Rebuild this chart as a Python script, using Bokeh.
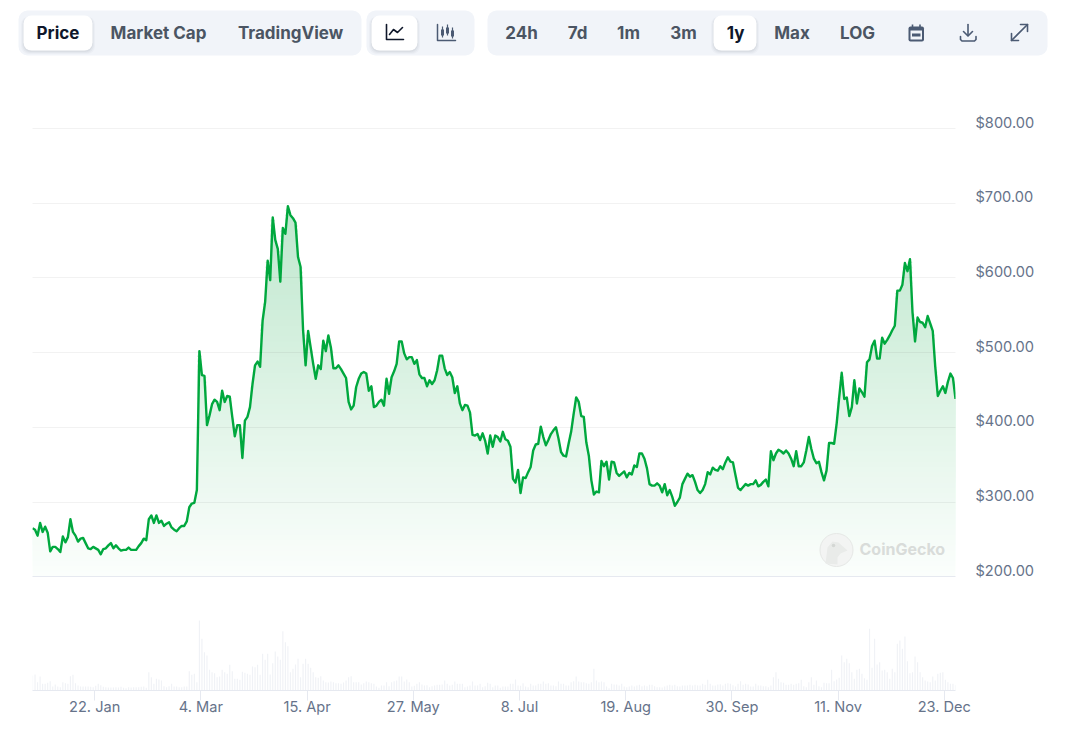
import numpy as np
import pandas as pd
from bokeh.embed import file_html
from bokeh.resources import INLINE
from bokeh.plotting import figure
from bokeh.models import Range1d, LinearAxis, FixedTicker, NumeralTickFormatter, Grid
from bokeh.core.properties import value

# ---------- data ----------
start_date = pd.Timestamp("2023-12-28 10:00")

prices = [
265,263,255,272,260,267,259,234,240,240,237,233,254,246,253,277,260,255,247,251,252,245,238,237,240,238,236,230,237,238,
242,245,238,242,238,235,236,236,239,236,236,236,241,245,251,249,277,282,272,282,272,275,268,271,273,266,263,261,265,268,
268,274,293,298,299,316,502,470,469,403,416,431,437,434,423,449,434,442,441,414,388,403,403,359,409,414,427,458,483,488,
481,543,568,623,597,681,651,639,595,667,659,696,684,680,674,628,615,530,483,529,507,485,465,483,478,516,502,523,507,479,
479,483,478,472,466,434,424,429,454,465,472,474,472,449,455,427,429,434,437,429,465,445,467,475,485,515,515,499,491,494,
494,485,490,471,466,466,455,463,458,463,476,496,496,479,470,474,467,446,455,432,423,430,429,420,390,389,391,383,392,382,
365,389,374,389,387,381,394,384,382,374,331,326,343,312,333,332,340,347,369,377,378,401,387,376,383,391,396,400,385,367,
362,361,378,394,418,440,434,415,414,380,362,329,310,314,313,355,348,354,330,354,353,339,335,338,341,333,339,337,349,347,
365,365,358,345,324,322,322,325,322,313,324,309,316,307,295,300,306,324,331,338,334,336,327,316,312,316,324,340,337,346,
343,342,348,344,353,360,354,353,336,319,316,320,324,322,324,324,329,321,323,327,330,321,368,356,365,370,368,365,369,365,
358,348,368,348,348,353,369,387,371,358,352,354,340,329,342,379,379,378,405,440,473,438,440,415,427,463,432,452,447,441,
487,491,509,516,492,492,520,512,517,523,530,536,583,583,591,620,609,625,554,515,547,541,540,534,549,539,529,481,442,449,
455,446,461,472,466,438,
]

# trading volume, in units of 20 million USD
volumes = [
45,48,25,42,20,20,23,28,12,18,12,10,25,22,20,43,47,22,15,12,12,12,12,11,10,14,20,16,11,10,
9,9,9,10,9,11,8,7,10,9,10,10,10,11,12,8,55,40,20,35,33,30,13,10,13,20,12,12,10,10,
12,12,58,47,50,25,210,155,115,105,62,55,52,40,42,62,55,50,77,58,35,35,32,56,53,50,47,72,70,77,
47,110,92,110,48,82,117,102,92,178,145,133,55,65,78,95,40,80,95,80,68,55,40,38,43,30,25,24,27,25,
22,22,20,24,30,40,43,25,25,25,18,22,27,25,22,20,12,8,15,15,25,13,25,28,30,42,42,27,33,25,
12,14,20,25,18,15,16,10,13,15,17,17,18,30,20,15,17,27,20,20,20,10,12,15,27,15,15,20,10,13,
23,20,10,15,15,8,12,12,12,20,20,33,15,
14,22,12,10,20,15,15,20,20,27,20,22,15,15,13,27,20,20,15,15,25,28,42,27,25,25,22,20,25,65,
30,25,27,25,12,7,20,18,18,15,20,12,10,12,15,12,15,17,13,15,13,17,17,13,10,10,9,12,15,17,
15,17,13,12,15,15,15,17,15,17,15,15,20,17,32,20,15,15,18,19,15,20,22,20,16,12,20,28,17,20,
18,12,12,20,15,15,13,13,10,15,40,55,35,25,23,17,17,20,17,20,22,32,13,10,25,40,17,30,13,10,
23,22,22,62,28,33,38,105,85,95,82,55,35,62,65,50,37,32,185,68,155,78,85,60,62,55,35,65,55,140,
150,125,162,88,52,55,102,85,55,40,30,27,25,42,30,50,53,55,32,25,20,20,17,15,
]

price_ticks = [200, 300, 400, 500, 600, 700, 800]
date_ticks = ["2024-01-22", "2024-03-04", "2024-04-15", "2024-05-27", "2024-07-08",
              "2024-08-19", "2024-09-30", "2024-11-11", "2024-12-23"]
date_labels = ["22. Jan", "4. Mar", "15. Apr", "27. May", "8. Jul", "19. Aug", "30. Sep", "11. Nov", "23. Dec"]

tab_labels = ["Price", "Market Cap", "TradingView", "24h", "7d", "1m", "3m", "1y", "Max", "LOG"]
tab_centers = [57.5, 158, 290, 521, 577, 628, 683, 735, 791.5, 857]
tab_colors = ["#0f172a", "#4b5563", "#4b5563", "#4b5563", "#4b5563", "#4b5563", "#4b5563", "#0f172a", "#4b5563", "#4b5563"]

FONT = value("Inter")
GREY = "#4b5a73"
DARK = "#0f172a"

# ---------- toolbar strip (page pixels) ----------
bar = figure(width=1076, height=70, x_range=Range1d(0, 1076), y_range=Range1d(70, 0),
             x_axis_type=None, y_axis_type=None, toolbar_location=None, output_backend="svg",
             min_border=0, outline_line_color=None)
bar.grid.visible = False

bar.quad(left=[18, 366, 487], right=[361, 474, 1047], top=[10, 10, 10], bottom=[55, 55, 55],
         fill_color="#f1f4f9", line_color=None, border_radius=9)
for off, al in [(3.5, 0.03), (2.5, 0.04), (1.5, 0.05)]:
    bar.quad(left=[23 - off + 1, 371 - off + 1, 713 - off + 1],
             right=[92 + off - 1, 417 + off - 1, 756 + off - 1],
             top=[15 + 1, 15 + 1, 15 + 1], bottom=[50 + off, 50 + off, 50 + off],
             fill_color="#334155", fill_alpha=al, line_color=None, border_radius=8)
bar.quad(left=[23, 371, 713], right=[92, 417, 756], top=[15, 15, 15], bottom=[50, 50, 50],
         fill_color="white", line_color=None, border_radius=8)
bar.text(x=tab_centers, y=[32] * len(tab_centers), text=tab_labels, text_color=tab_colors,
         text_font=FONT, text_font_style="bold", text_font_size="17px",
         text_align="center", text_baseline="middle")

# line-chart icon
bar.line([386, 386, 403], [24, 39, 39], line_color=DARK, line_width=1.6, line_join="round", line_cap="round")
bar.line([389, 393, 397, 402], [34, 29, 32, 27], line_color=DARK, line_width=1.6, line_join="round", line_cap="round")
# candlestick icon
bar.line([437, 437, 455], [24, 40, 40], line_color=GREY, line_width=1.5, line_join="round", line_cap="round")
bar.segment([442, 447, 452], [26, 24, 27], [442, 447, 452], [37, 35, 38], line_color=GREY, line_width=1.2)
bar.quad(left=[440.5, 445.5, 450.5], right=[443.5, 448.5, 453.5], top=[29, 27, 30], bottom=[35, 33, 36],
         fill_color=GREY, line_color=None)
# calendar icon
bar.quad(left=[908], right=[923.5], top=[26], bottom=[41], fill_color=GREY, line_color=None, border_radius=2)
bar.quad(left=[910], right=[921.5], top=[30], bottom=[39], fill_color="#f1f4f9", line_color=None)
bar.quad(left=[911.5], right=[920], top=[33], bottom=[36], fill_color=GREY, line_color=None)
bar.segment([912, 919.5], [24, 24], [912, 919.5], [27, 27], line_color=GREY, line_width=1.6)
# download icon
bar.line([967.5, 967.5], [24, 35], line_color=GREY, line_width=1.6, line_cap="round")
bar.line([963, 967.5, 972], [31, 35.5, 31], line_color=GREY, line_width=1.6, line_join="round", line_cap="round")
bar.line([960, 960, 961.5, 974, 975.5, 975.5], [36, 39, 40.5, 40.5, 39, 36], line_color=GREY, line_width=1.6,
         line_join="round", line_cap="round")
# expand icon
bar.line([1011, 1027], [40, 24], line_color=GREY, line_width=1.6, line_cap="round")
bar.line([1020, 1027, 1027], [24, 24, 31], line_color=GREY, line_width=1.6, line_join="round", line_cap="round")
bar.line([1011, 1011, 1018], [33, 40, 40], line_color=GREY, line_width=1.6, line_join="round", line_cap="round")

# ---------- chart ----------
dates = pd.date_range(start_date, periods=len(prices), freq="D")
vol_dates = pd.date_range(start_date, periods=len(volumes), freq="D")
price_arr = np.array(prices, dtype=float)

x_range = Range1d(start_date, start_date + pd.Timedelta(days=365))
p = figure(width=1076, height=650, x_axis_type="datetime", y_axis_type=None,
           x_range=x_range, y_range=Range1d(47.7, 877.7),
           toolbar_location=None, output_backend="svg",
           min_border_left=32, min_border_right=121, min_border_top=0, min_border_bottom=30,
           outline_line_color=None)
p.xgrid.visible = False
p.extra_y_ranges["labels"] = Range1d(47.7 - 8.0, 877.7 - 8.0)
p.extra_y_ranges["volume"] = Range1d(0, 1860)
p.extra_x_ranges["pxx"] = Range1d(32, 955)
p.extra_y_ranges["pxy"] = Range1d(690, 70)

# x axis
tick_ms = [int(pd.Timestamp(d).timestamp() * 1000) for d in date_ticks]
ax = p.xaxis[0]
ax.ticker = FixedTicker(ticks=tick_ms)
ax.major_label_overrides = {t: l for t, l in zip(tick_ms, date_labels)}
ax.major_tick_in = 0
ax.major_tick_out = 10
ax.minor_tick_line_color = None
ax.major_tick_line_color = "#e6e9f0"
ax.axis_line_color = "#e6e9f0"
ax.major_label_standoff = -3
ax.major_label_text_font = "Inter"
ax.major_label_text_font_size = "14.6px"
ax.major_label_text_color = "#66738a"

# y axis
yax = LinearAxis(y_range_name="labels", ticker=FixedTicker(ticks=price_ticks),
                 formatter=NumeralTickFormatter(format="$0,0.00"))
yax.axis_line_color = None
yax.major_tick_line_color = None
yax.minor_tick_line_color = None
yax.major_label_standoff = 14
yax.major_label_text_font = "Inter"
yax.major_label_text_font_size = "14.6px"
yax.major_label_text_color = "#66738a"
p.add_layout(yax, "right")

# volume bars
p.vbar(x=vol_dates, top=volumes, bottom=0, width=pd.Timedelta(hours=11).total_seconds() * 1000,
       y_range_name="volume", fill_color="#f0f2f6", line_color=None)

# gradient area: opaque layers painted from low to high
bottom_rgb = np.array([251, 254, 252])
top_rgb = np.array([190, 231, 205])
levels = np.arange(price_ticks[0], price_arr.max(), 7.0)
for lv in levels:
    t = (lv - levels[0]) / (price_arr.max() - levels[0])
    c = bottom_rgb + (top_rgb - bottom_rgb) * t
    color = "#%02x%02x%02x" % tuple(int(round(v)) for v in c)
    p.varea(x=dates, y1=np.full(len(price_arr), lv), y2=np.maximum(price_arr, lv), fill_color=color)

# grid lines
g = Grid(dimension=1, ticker=FixedTicker(ticks=price_ticks[1:]), grid_line_color="#000000",
         grid_line_alpha=0.05, grid_line_width=1, level="guide")
p.add_layout(g)
g0 = Grid(dimension=1, ticker=FixedTicker(ticks=price_ticks[:1]), grid_line_color="#e6e9f0",
          grid_line_width=1, level="guide")
p.add_layout(g0)

# watermark
p.circle(x=[836], y=[549.5], radius=16.5, x_range_name="pxx", y_range_name="pxy",
         fill_color="#f3f4f3", line_color="#e6e8e6", line_width=1)
p.patch([825, 827, 832, 838, 847, 840, 837, 837], [563, 547, 541, 542, 550, 553, 557, 564],
        x_range_name="pxx", y_range_name="pxy", fill_color="#e9ebe9", line_color=None)
p.circle(x=[833], y=[545], radius=1.8, x_range_name="pxx", y_range_name="pxy", fill_color="#d4d7d4", line_color=None)
p.text(x=[859], y=[548], text=["CoinGecko"], x_range_name="pxx", y_range_name="pxy",
       text_font=FONT, text_font_style="bold", text_font_size="16px", text_color="#d9dcda",
       text_align="left", text_baseline="middle")

# price line
p.line(x=dates, y=price_arr, line_color="#00a83e", line_width=2.4, line_join="round")

open("out.html", "w").write(file_html((bar, p), INLINE))
